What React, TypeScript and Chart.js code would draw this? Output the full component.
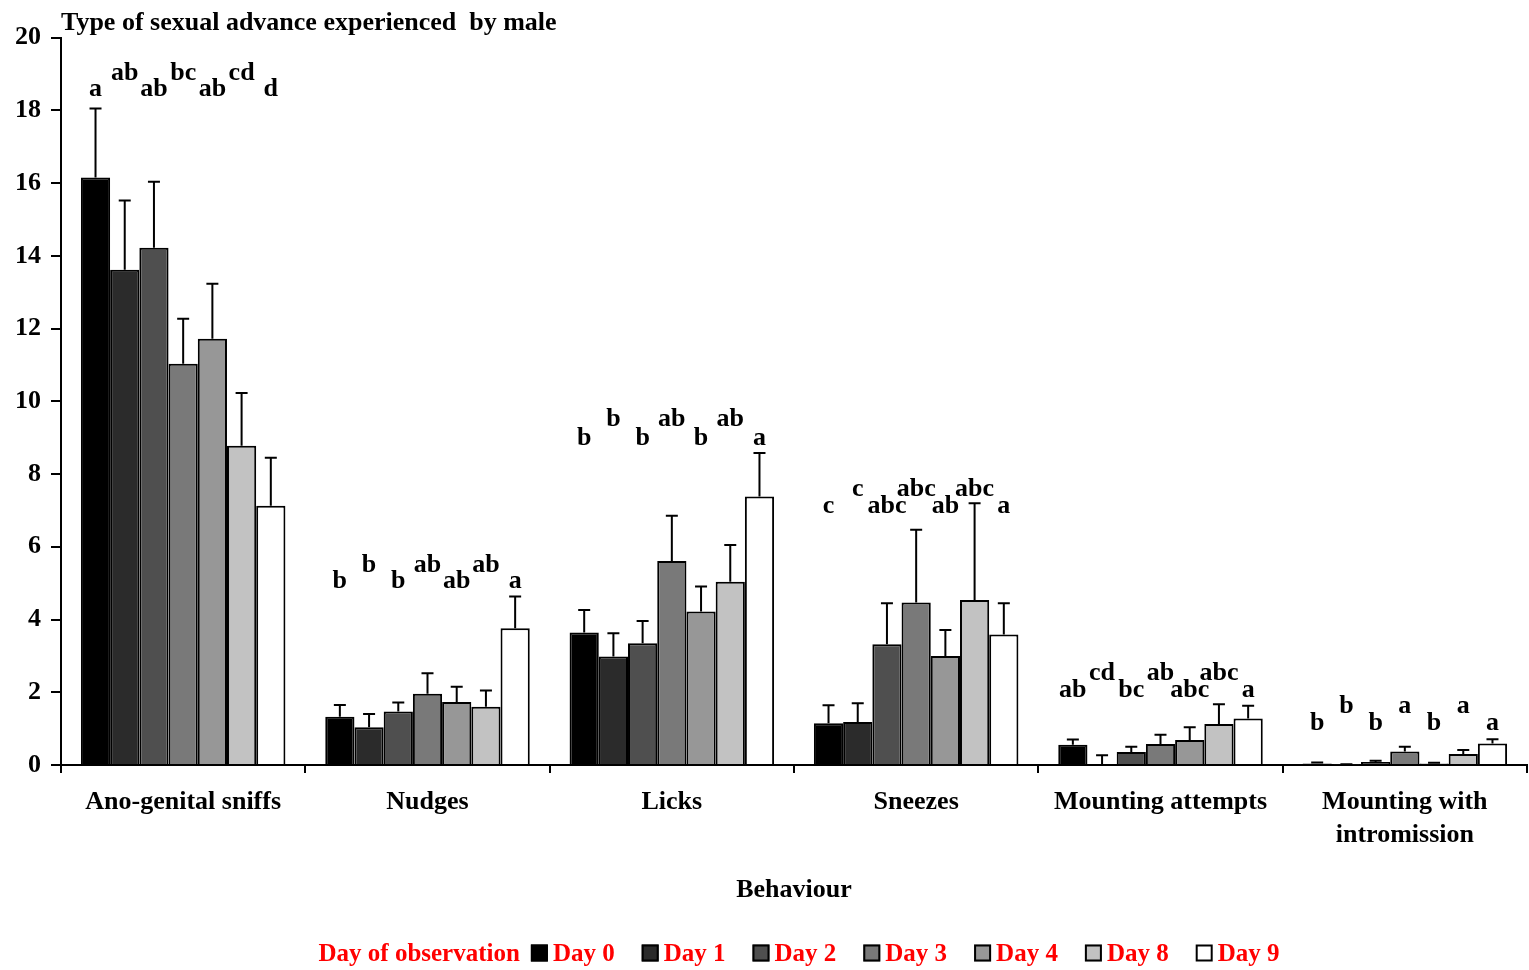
import React, { useEffect, useRef } from "react";
import { Chart, registerables } from "chart.js";

Chart.register(...registerables);

// ---------- data ----------
const categories: (string | string[])[] = [
  "Ano-genital sniffs",
  "Nudges",
  "Licks",
  "Sneezes",
  "Mounting attempts",
  ["Mounting with", "intromission"],
];

const dayLabels = ["Day 0", "Day 1", "Day 2", "Day 3", "Day 4", "Day 8", "Day 9"];

const day0Means = [16.15, 1.33, 3.64, 1.15, 0.56, 0.04];
const day1Means = [13.62, 1.04, 2.98, 1.18, 0.03, 0.01];
const day2Means = [14.22, 1.47, 3.35, 3.32, 0.36, 0.08];
const day3Means = [11.03, 1.96, 5.61, 4.47, 0.58, 0.37];
const day4Means = [11.72, 1.73, 4.22, 3.0, 0.69, 0.04];
const day8Means = [8.78, 1.6, 5.04, 4.54, 1.13, 0.3];
const day9Means = [7.13, 3.76, 7.38, 3.59, 1.28, 0.59];

const day0Err = [1.9, 0.32, 0.62, 0.49, 0.14, 0.03];
const day1Err = [1.9, 0.36, 0.64, 0.52, 0.24, 0.01];
const day2Err = [1.82, 0.25, 0.61, 1.13, 0.14, 0.04];
const day3Err = [1.24, 0.56, 1.24, 2.0, 0.25, 0.13];
const day4Err = [1.51, 0.42, 0.69, 0.71, 0.35, 0.02];
const day8Err = [1.45, 0.45, 1.01, 2.66, 0.54, 0.11];
const day9Err = [1.32, 0.87, 1.2, 0.86, 0.35, 0.12];

const day0Letters = ["a", "b", "b", "c", "ab", "b"];
const day1Letters = ["ab", "b", "b", "c", "cd", "b"];
const day2Letters = ["ab", "b", "b", "abc", "bc", "b"];
const day3Letters = ["bc", "ab", "ab", "abc", "ab", "a"];
const day4Letters = ["ab", "ab", "b", "ab", "abc", "b"];
const day8Letters = ["cd", "ab", "ab", "abc", "abc", "a"];
const day9Letters = ["d", "a", "a", "a", "a", "a"];

// letter baselines (value units) for the lower and upper rows per behaviour
const letterLowRow = [18.39, 4.88, 8.8, 6.92, 1.88, 0.96];
const letterHighRow = [18.84, 5.32, 9.31, 7.4, 2.34, 1.44];

const yTickMin = 0;
const yTickMax = 20;
const yTickStep = 2;

const dayColors = ["#000000", "#2b2b2b", "#4f4f4f", "#797979", "#979797", "#c2c2c2", "#ffffff"];

const allMeans = [day0Means, day1Means, day2Means, day3Means, day4Means, day8Means, day9Means];
const allErr = [day0Err, day1Err, day2Err, day3Err, day4Err, day8Err, day9Err];
const allLetters = [day0Letters, day1Letters, day2Letters, day3Letters, day4Letters, day8Letters, day9Letters];

const FONT = "'Liberation Serif', 'Times New Roman', serif";

const errorBarPlugin = {
  id: "errorBars",
  afterDatasetsDraw(chart: any) {
    const ctx = chart.ctx;
    const y = chart.scales.y;
    ctx.save();
    ctx.strokeStyle = "#000";
    ctx.lineWidth = 2;
    chart.data.datasets.forEach((ds: any, i: number) => {
      const meta = chart.getDatasetMeta(i);
      meta.data.forEach((el: any, j: number) => {
        const v = ds.data[j];
        const e = allErr[i][j];
        const yTop = y.getPixelForValue(v + e);
        const yBar = y.getPixelForValue(v);
        ctx.beginPath();
        ctx.moveTo(el.x, yBar);
        ctx.lineTo(el.x, yTop);
        ctx.moveTo(el.x - 6, yTop);
        ctx.lineTo(el.x + 6, yTop);
        ctx.stroke();
      });
    });
    ctx.restore();
  },
};

const letterPlugin = {
  id: "letters",
  afterDatasetsDraw(chart: any) {
    const ctx = chart.ctx;
    const y = chart.scales.y;
    ctx.save();
    ctx.fillStyle = "#000";
    ctx.font = `bold 26px ${FONT}`;
    ctx.textAlign = "center";
    ctx.textBaseline = "alphabetic";
    chart.data.datasets.forEach((_ds: any, i: number) => {
      const meta = chart.getDatasetMeta(i);
      meta.data.forEach((el: any, j: number) => {
        const level = i % 2 === 0 ? letterLowRow[j] : letterHighRow[j];
        ctx.fillText(allLetters[i][j], el.x, y.getPixelForValue(level));
      });
    });
    ctx.restore();
  },
};

const legendPlugin = {
  id: "customLegend",
  afterDraw(chart: any) {
    const ctx = chart.ctx;
    const area = chart.chartArea;
    ctx.save();
    ctx.font = `bold 25px ${FONT}`;
    ctx.textBaseline = "middle";
    ctx.textAlign = "left";
    const title = "Day of observation";
    const box = 17;
    const boxGap = 5;
    const itemGap = 27;
    const titleGap = 11;
    let total = ctx.measureText(title).width + titleGap;
    dayLabels.forEach((l, i) => {
      total += box + boxGap + ctx.measureText(l).width + (i < dayLabels.length - 1 ? itemGap : 0);
    });
    const cy = 955;
    let x = (area.left + area.right) / 2 + 5 - total / 2;
    ctx.fillStyle = "#ff0000";
    ctx.fillText(title, x, cy);
    x += ctx.measureText(title).width + titleGap;
    dayLabels.forEach((l) => {
      const ds = chart.data.datasets.find((d: any) => d.label === l);
      ctx.fillStyle = ds.backgroundColor;
      ctx.fillRect(x, cy - box / 2 - 2, box, box);
      ctx.strokeStyle = "#000";
      ctx.lineWidth = 2;
      ctx.strokeRect(x + 1, cy - box / 2 - 1, box - 2, box - 2);
      x += box + boxGap;
      ctx.fillStyle = "#ff0000";
      ctx.fillText(l, x, cy);
      x += ctx.measureText(l).width + itemGap;
    });
    ctx.restore();
  },
};

export default function App() {
  const canvasRef = useRef<HTMLCanvasElement | null>(null);

  useEffect(() => {
    document.body.style.margin = "0";
    const canvas = canvasRef.current;
    if (!canvas) return;
    const chart = new Chart(canvas, {
      type: "bar",
      data: {
        labels: categories as any,
        datasets: dayLabels.map((label, i) => ({
          label,
          data: allMeans[i],
          backgroundColor: dayColors[i],
          borderColor: "#000000",
          borderWidth: 2,
          barPercentage: 1,
          categoryPercentage: 0.837,
        })),
      },
      options: {
        animation: false,
        responsive: true,
        maintainAspectRatio: false,
        layout: { padding: { left: 0, right: 2, top: 0, bottom: 40 } },
        plugins: {
          legend: { display: false },
          tooltip: { enabled: false },
          title: {
            display: true,
            text: "Type of sexual advance experienced  by male",
            align: "start",
            fullSize: false,
            color: "#000",
            font: { family: FONT, size: 26, weight: "bold", lineHeight: 1.1 },
            padding: { top: 9, bottom: 0 },
          },
        },
        scales: {
          x: {
            afterFit: (s: any) => {
              s.height = 165;
            },
            grid: {
              display: true,
              drawOnChartArea: false,
              drawTicks: true,
              tickLength: 8,
              color: "#000",
              lineWidth: 2,
            },
            border: { display: true, color: "#000", width: 2 },
            ticks: {
              color: "#000",
              padding: 13,
              font: { family: FONT, size: 26, weight: "bold", lineHeight: 1.27 },
              maxRotation: 0,
              autoSkip: false,
            },
            title: {
              display: true,
              text: "Behaviour",
              color: "#000",
              font: { family: FONT, size: 26, weight: "bold", lineHeight: 1.2 },
              padding: { top: 0, bottom: 24 },
            },
          },
          y: {
            min: yTickMin,
            max: yTickMax,
            afterFit: (s: any) => {
              s.width = 61;
            },
            ticks: {
              stepSize: yTickStep,
              color: "#000",
              padding: 10,
              font: { family: FONT, size: 26, weight: "bold" },
            },
            grid: {
              display: true,
              drawOnChartArea: false,
              drawTicks: true,
              tickLength: 10,
              color: "#000",
              lineWidth: 2,
            },
            border: { display: true, color: "#000", width: 2 },
          },
        },
      },
      plugins: [errorBarPlugin, letterPlugin, legendPlugin],
    });
    return () => chart.destroy();
  }, []);

  return (
    <div style={{ width: "1529px", height: "970px", position: "relative" }}>
      <canvas ref={canvasRef} />
    </div>
  );
}
